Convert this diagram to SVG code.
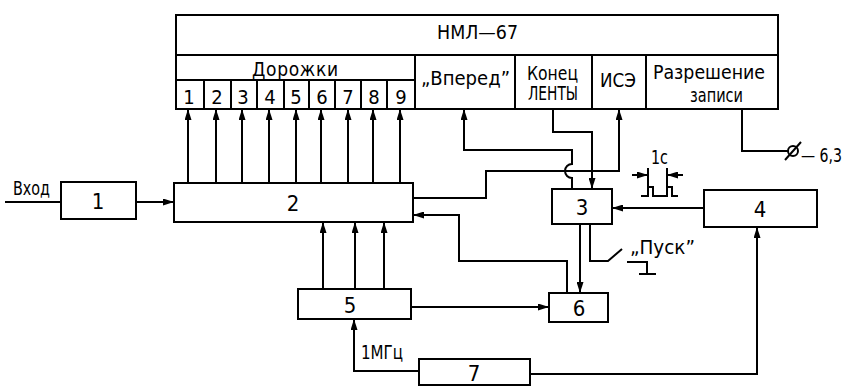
<svg xmlns="http://www.w3.org/2000/svg" width="850" height="387" viewBox="0 0 850 387">
<style>
.b{fill:#fff;stroke:#000;stroke-width:2}
.l{fill:none;stroke:#000;stroke-width:2}
.a{fill:none;stroke:#000;stroke-width:2;marker-end:url(#ah)}
text{font-family:"DejaVu Sans Condensed","Liberation Sans Narrow","Liberation Sans",sans-serif;fill:#000}
.n{font-size:22px;text-anchor:middle}
.c{font-size:20px;text-anchor:middle}
.t{font-size:19px}
</style>
<defs>
<marker id="ah" markerUnits="userSpaceOnUse" markerWidth="11" markerHeight="7" refX="11" refY="3.5" orient="auto">
<path d="M0,0 L11,3.5 L0,7 z" fill="#000"/>
</marker>
</defs>
<rect width="850" height="387" fill="#fff"/>

<g id="nml67">
<rect class="b" x="176" y="15" width="602" height="94"/>
<line class="l" x1="176" y1="55" x2="778" y2="55"/>
<line class="l" x1="176" y1="80" x2="415" y2="80"/>
<line class="l" x1="415" y1="55" x2="415" y2="109"/>
<line class="l" x1="515" y1="55" x2="515" y2="109"/>
<line class="l" x1="592" y1="55" x2="592" y2="109"/>
<line class="l" x1="646" y1="55" x2="646" y2="109"/>
<g class="l">
<line x1="204" y1="80" x2="204" y2="109"/>
<line x1="231" y1="80" x2="231" y2="109"/>
<line x1="257" y1="80" x2="257" y2="109"/>
<line x1="284" y1="80" x2="284" y2="109"/>
<line x1="309" y1="80" x2="309" y2="109"/>
<line x1="335" y1="80" x2="335" y2="109"/>
<line x1="361" y1="80" x2="361" y2="109"/>
<line x1="387" y1="80" x2="387" y2="109"/>
</g>
<text class="t" x="437" y="39" font-size="20" textLength="81" lengthAdjust="spacingAndGlyphs">НМЛ—67</text>
<text class="t" x="252" y="76" textLength="86" lengthAdjust="spacing">Дорожки</text>
<text class="c" x="189" y="104">1</text>
<text class="c" x="217" y="104">2</text>
<text class="c" x="243" y="104">3</text>
<text class="c" x="270" y="104">4</text>
<text class="c" x="296" y="104">5</text>
<text class="c" x="322" y="104">6</text>
<text class="c" x="348" y="104">7</text>
<text class="c" x="374" y="104">8</text>
<text class="c" x="401" y="104">9</text>
<text class="t" x="421" y="85" textLength="89" lengthAdjust="spacingAndGlyphs">„Вперед”</text>
<text class="t" x="527" y="80" font-size="18" textLength="51" lengthAdjust="spacingAndGlyphs">Конец</text>
<text class="t" x="528" y="100" font-size="15" textLength="50" lengthAdjust="spacingAndGlyphs">ЛЕНТЫ</text>
<text class="t" x="600" y="87" textLength="36" lengthAdjust="spacingAndGlyphs">ИСЭ</text>
<text class="t" x="653" y="79" font-size="18" textLength="112" lengthAdjust="spacingAndGlyphs">Разрешение</text>
<text class="t" x="690" y="102" font-size="18" textLength="53" lengthAdjust="spacingAndGlyphs">записи</text>
</g>

<g id="block1">
<rect class="b" x="61" y="182" width="75" height="37"/>
<text class="n" x="98" y="209">1</text>
</g>
<g id="block2">
<rect class="b" x="174" y="183" width="239" height="39"/>
<text class="n" x="293" y="211">2</text>
</g>
<g id="block3">
<rect class="b" x="552" y="189" width="60" height="35"/>
<text class="n" x="582" y="215">3</text>
</g>
<g id="block4">
<rect class="b" x="704" y="190" width="113" height="37"/>
<text class="n" x="760" y="217">4</text>
</g>
<g id="block5">
<rect class="b" x="298" y="289" width="113" height="30"/>
<text class="n" x="350" y="313">5</text>
</g>
<g id="block6">
<rect class="b" x="549" y="293" width="59" height="29"/>
<text class="n" x="579" y="316">6</text>
</g>
<g id="block7">
<rect class="b" x="419" y="359" width="111" height="26"/>
<text class="n" x="474" y="381" font-size="20">7</text>
</g>

<g id="labels">
<text class="t" x="13" y="195" textLength="37" lengthAdjust="spacingAndGlyphs">Вход</text>
<text class="t" x="361" y="359" font-size="17" textLength="42" lengthAdjust="spacingAndGlyphs">1МГц</text>
<text class="t" x="630" y="254" font-size="17" textLength="65" lengthAdjust="spacingAndGlyphs">„Пуск”</text>
<text class="t" x="651" y="164" font-size="16" textLength="17" lengthAdjust="spacingAndGlyphs">1с</text>
<text class="t" x="801" y="162" font-size="19" textLength="41" lengthAdjust="spacingAndGlyphs">— 6,3</text>
</g>

<g id="connectors">
<line class="l" x1="5" y1="202" x2="61" y2="202"/>
<line class="a" x1="136" y1="202" x2="174" y2="202"/>
<line class="a" x1="188" y1="183" x2="188" y2="109"/>
<line class="a" x1="216" y1="183" x2="216" y2="109"/>
<line class="a" x1="242" y1="183" x2="242" y2="109"/>
<line class="a" x1="269" y1="183" x2="269" y2="109"/>
<line class="a" x1="296" y1="183" x2="296" y2="109"/>
<line class="a" x1="321" y1="183" x2="321" y2="109"/>
<line class="a" x1="348" y1="183" x2="348" y2="109"/>
<line class="a" x1="373" y1="183" x2="373" y2="109"/>
<line class="a" x1="400" y1="183" x2="400" y2="109"/>
<line class="a" x1="323" y1="289" x2="323" y2="222"/>
<line class="a" x1="355" y1="289" x2="355" y2="222"/>
<line class="a" x1="384" y1="289" x2="384" y2="222"/>
<line class="a" x1="411" y1="307" x2="549" y2="307"/>
<path class="a" d="M419,371 H354 V319"/>
<path class="a" d="M530,374 H757 V227"/>
<line class="a" x1="704" y1="208" x2="612" y2="208"/>
<path class="a" d="M553,109 V132 H592 V189"/>
<path class="a" d="M413,198 H486 V171 H619 V109"/>
<path class="a" d="M572,189 V178 A7,7 0 0 1 572,164 V150 H464 V109"/>
<path class="a" d="M567,293 V261 H459 V215 H413"/>
<line class="a" x1="580" y1="224" x2="580" y2="293"/>
<path class="l" d="M590,224 V261 H608 L622,249"/>
<path class="l" d="M627,262 H647 V274 M639,274 H656"/>
<path class="l" d="M742,109 V151 H788"/>
<circle class="l" cx="793" cy="151" r="5"/>
<line class="l" x1="785" y1="160" x2="801" y2="142"/>
<path class="l" d="M641,196 H648 V187 H653 V196 H667 V187 H672 V196 H678"/>
<path class="l" d="M648,168 V187 M667,168 V187"/>
<line class="a" x1="632" y1="175" x2="648" y2="175"/>
<line class="a" x1="683" y1="175" x2="667" y2="175"/>
</g>
</svg>
